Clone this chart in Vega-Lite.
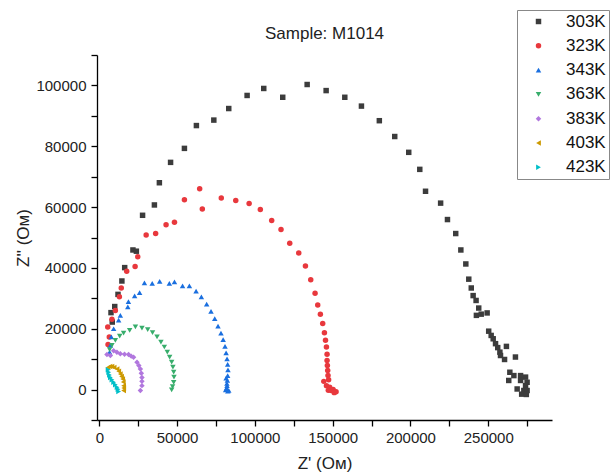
{
  "$schema": "https://vega.github.io/schema/vega-lite/v6.json",
  "autosize": {"type": "none"},
  "width": 455,
  "height": 365,
  "padding": {"left": 97, "top": 55, "right": 61, "bottom": 55},
  "background": "white",
  "config": {
    "font": "Liberation Sans",
    "view": {"stroke": null},
    "axis": {"grid": false, "domainColor": "#000", "domainWidth": 1.3, "tickColor": "#000", "tickWidth": 1.3, "tickSize": 6, "labelColor": "#222", "labelFontSize": 15, "titleFontSize": 17, "titleFontWeight": "normal", "titleColor": "#222", "labelFont": "Liberation Sans", "titleFont": "Liberation Sans"}
  },
  "title": {"text": "Sample: M1014", "fontSize": 17, "fontWeight": "normal", "font": "Liberation Sans", "color": "#222", "anchor": "middle", "offset": -46, "baseline": "alphabetic"},
  "data": {"values": [
    {"s":"303K","x":7500,"y":25300},{"s":"303K","x":8300,"y":22200},{"s":"303K","x":9900,"y":27300},{"s":"303K","x":12000,"y":31300},{"s":"303K","x":14500,"y":35700},{"s":"303K","x":16300,"y":40100},{"s":"303K","x":21600,"y":45900},{"s":"303K","x":23800,"y":45500},{"s":"303K","x":27800,"y":57300},{"s":"303K","x":35400,"y":60700},{"s":"303K","x":38600,"y":68000},{"s":"303K","x":45800,"y":74700},{"s":"303K","x":54700,"y":79300},{"s":"303K","x":62400,"y":86800},{"s":"303K","x":73600,"y":88600},{"s":"303K","x":83200,"y":92400},{"s":"303K","x":95000,"y":96700},{"s":"303K","x":105700,"y":99000},{"s":"303K","x":117900,"y":96100},{"s":"303K","x":133600,"y":100300},{"s":"303K","x":145800,"y":98300},{"s":"303K","x":157800,"y":96100},{"s":"303K","x":168500,"y":93200},{"s":"303K","x":180000,"y":88400},{"s":"303K","x":189900,"y":83200},{"s":"303K","x":198900,"y":78000},{"s":"303K","x":206000,"y":72400},{"s":"303K","x":209700,"y":65200},{"s":"303K","x":219400,"y":61300},{"s":"303K","x":223800,"y":55900},{"s":"303K","x":229100,"y":51300},{"s":"303K","x":232400,"y":45900},{"s":"303K","x":235600,"y":41300},{"s":"303K","x":237500,"y":36300},{"s":"303K","x":239100,"y":33400},{"s":"303K","x":240300,"y":30900},{"s":"303K","x":242200,"y":29300},{"s":"303K","x":243900,"y":26800},{"s":"303K","x":242400,"y":24400},{"s":"303K","x":245500,"y":24800},{"s":"303K","x":249300,"y":25200},{"s":"303K","x":250300,"y":19200},{"s":"303K","x":251900,"y":17800},{"s":"303K","x":253200,"y":16700},{"s":"303K","x":254700,"y":15100},{"s":"303K","x":256100,"y":13800},{"s":"303K","x":257500,"y":12300},{"s":"303K","x":257900,"y":11200},{"s":"303K","x":260500,"y":9900},{"s":"303K","x":261700,"y":14200},{"s":"303K","x":267500,"y":10700},{"s":"303K","x":263900,"y":5700},{"s":"303K","x":266500,"y":4600},{"s":"303K","x":270800,"y":4600},{"s":"303K","x":274000,"y":4100},{"s":"303K","x":263200,"y":3000},{"s":"303K","x":270800,"y":3000},{"s":"303K","x":275000,"y":2400},{"s":"303K","x":268600,"y":200},{"s":"303K","x":272900,"y":-300},{"s":"303K","x":275000,"y":-300},{"s":"303K","x":274000,"y":1300},{"s":"303K","x":271500,"y":-1500},{"s":"303K","x":274500,"y":-1600},
    {"s":"323K","x":5600,"y":14800},{"s":"323K","x":6400,"y":17300},{"s":"323K","x":5400,"y":20600},{"s":"323K","x":8100,"y":23100},{"s":"323K","x":10300,"y":26000},{"s":"323K","x":12900,"y":30500},{"s":"323K","x":14100,"y":33400},{"s":"323K","x":17600,"y":38900},{"s":"323K","x":23000,"y":40500},{"s":"323K","x":24700,"y":43700},{"s":"323K","x":30100,"y":50800},{"s":"323K","x":36200,"y":51300},{"s":"323K","x":42900,"y":54200},{"s":"323K","x":48300,"y":55000},{"s":"323K","x":54700,"y":62400},{"s":"323K","x":64500,"y":66000},{"s":"323K","x":66200,"y":59400},{"s":"323K","x":78400,"y":63000},{"s":"323K","x":87700,"y":62200},{"s":"323K","x":96300,"y":61200},{"s":"323K","x":103500,"y":59200},{"s":"323K","x":110800,"y":55600},{"s":"323K","x":116800,"y":52600},{"s":"323K","x":122400,"y":48100},{"s":"323K","x":128200,"y":44900},{"s":"323K","x":132500,"y":40600},{"s":"323K","x":135900,"y":36100},{"s":"323K","x":138700,"y":31700},{"s":"323K","x":140400,"y":27800},{"s":"323K","x":142100,"y":24800},{"s":"323K","x":143600,"y":21700},{"s":"323K","x":144700,"y":18700},{"s":"323K","x":145400,"y":16200},{"s":"323K","x":146000,"y":14000},{"s":"323K","x":146400,"y":11600},{"s":"323K","x":146400,"y":9600},{"s":"323K","x":146600,"y":7900},{"s":"323K","x":146800,"y":6300},{"s":"323K","x":147000,"y":4600},{"s":"323K","x":147400,"y":3200},{"s":"323K","x":144300,"y":2700},{"s":"323K","x":146000,"y":1300},{"s":"323K","x":148100,"y":800},{"s":"323K","x":150300,"y":0},{"s":"323K","x":152200,"y":-700},{"s":"323K","x":149000,"y":-300},{"s":"323K","x":147200,"y":-200},{"s":"323K","x":151000,"y":-1000},
    {"s":"343K","x":6600,"y":12300},{"s":"343K","x":7100,"y":14500},{"s":"343K","x":7700,"y":17300},{"s":"343K","x":9200,"y":20000},{"s":"343K","x":12400,"y":22800},{"s":"343K","x":13500,"y":24400},{"s":"343K","x":18300,"y":27200},{"s":"343K","x":18700,"y":28900},{"s":"343K","x":22700,"y":30800},{"s":"343K","x":25900,"y":31900},{"s":"343K","x":29000,"y":35100},{"s":"343K","x":34000,"y":34900},{"s":"343K","x":38800,"y":35600},{"s":"343K","x":45000,"y":34900},{"s":"343K","x":48300,"y":35400},{"s":"343K","x":53500,"y":34100},{"s":"343K","x":57900,"y":34100},{"s":"343K","x":62200,"y":32400},{"s":"343K","x":65600,"y":30500},{"s":"343K","x":69000,"y":28100},{"s":"343K","x":71800,"y":25700},{"s":"343K","x":74200,"y":23300},{"s":"343K","x":76300,"y":20900},{"s":"343K","x":78200,"y":18600},{"s":"343K","x":79600,"y":16400},{"s":"343K","x":80800,"y":14200},{"s":"343K","x":81500,"y":12100},{"s":"343K","x":82100,"y":10100},{"s":"343K","x":82500,"y":8300},{"s":"343K","x":82700,"y":6500},{"s":"343K","x":82500,"y":4600},{"s":"343K","x":81500,"y":3800},{"s":"343K","x":82300,"y":3000},{"s":"343K","x":82000,"y":2000},{"s":"343K","x":82100,"y":1300},{"s":"343K","x":81800,"y":500},{"s":"343K","x":81200,"y":-100},{"s":"343K","x":83200,"y":-300},{"s":"343K","x":82600,"y":-500},
    {"s":"363K","x":6600,"y":13100},{"s":"363K","x":8100,"y":14500},{"s":"363K","x":10300,"y":16200},{"s":"363K","x":13100,"y":17600},{"s":"363K","x":15600,"y":18600},{"s":"363K","x":19500,"y":19500},{"s":"363K","x":23200,"y":20600},{"s":"363K","x":27400,"y":20200},{"s":"363K","x":31100,"y":19700},{"s":"363K","x":34200,"y":18700},{"s":"363K","x":37100,"y":17300},{"s":"363K","x":39600,"y":15600},{"s":"363K","x":41800,"y":14000},{"s":"363K","x":43700,"y":12300},{"s":"363K","x":45200,"y":10700},{"s":"363K","x":46500,"y":9000},{"s":"363K","x":47300,"y":7400},{"s":"363K","x":47800,"y":5700},{"s":"363K","x":48000,"y":4100},{"s":"363K","x":47800,"y":2400},{"s":"363K","x":47100,"y":1000},{"s":"363K","x":46500,"y":-100},
    {"s":"383K","x":4900,"y":11500},{"s":"383K","x":7100,"y":11200},{"s":"383K","x":9200,"y":12800},{"s":"383K","x":11300,"y":12300},{"s":"383K","x":13500,"y":11800},{"s":"383K","x":16200,"y":11600},{"s":"383K","x":18800,"y":11500},{"s":"383K","x":20500,"y":11000},{"s":"383K","x":22000,"y":10600},{"s":"383K","x":24200,"y":9000},{"s":"383K","x":25400,"y":7900},{"s":"383K","x":26400,"y":6800},{"s":"383K","x":27000,"y":5400},{"s":"383K","x":27400,"y":4000},{"s":"383K","x":27400,"y":2700},{"s":"383K","x":27400,"y":1300},{"s":"383K","x":26400,"y":-300},
    {"s":"403K","x":5600,"y":7300},{"s":"403K","x":6800,"y":7600},{"s":"403K","x":8100,"y":7600},{"s":"403K","x":9500,"y":7300},{"s":"403K","x":11400,"y":6800},{"s":"403K","x":12500,"y":6000},{"s":"403K","x":13500,"y":5100},{"s":"403K","x":14300,"y":4300},{"s":"403K","x":15000,"y":3500},{"s":"403K","x":15400,"y":2500},{"s":"403K","x":15600,"y":1300},{"s":"403K","x":15700,"y":500},{"s":"403K","x":15600,"y":-300},
    {"s":"423K","x":5600,"y":6500},{"s":"423K","x":6000,"y":5700},{"s":"423K","x":6500,"y":4800},{"s":"423K","x":7100,"y":4000},{"s":"423K","x":8100,"y":3200},{"s":"423K","x":9200,"y":2400},{"s":"423K","x":10300,"y":1600},{"s":"423K","x":11400,"y":800},{"s":"423K","x":12000,"y":100},{"s":"423K","x":12400,"y":-600}
  ]},
  "mark": {"type": "point", "filled": true, "opacity": 1, "size": 30},
  "encoding": {
    "x": {"field": "x", "type": "quantitative", "title": "Z' (Ом)",
      "scale": {"domain": [-1500, 291000], "nice": false, "zero": false},
      "axis": {"values": [0,25000,50000,75000,100000,125000,150000,175000,200000,225000,250000,275000], "format": "d",
        "labelExpr": "datum.value % 50000 === 0 ? datum.label : ''",
        "encode": {"ticks": {"update": {"y2": {"signal": "datum.value % 50000 === 0 ? 6 : 3"}}}},
        "labelPadding": 4, "titlePadding": 10, "labelFlush": false, "labelOverlap": false}},
    "y": {"field": "y", "type": "quantitative", "title": "Z'' (Ом)",
      "scale": {"domain": [-10000, 110000], "nice": false, "zero": false},
      "axis": {"values": [-10000,0,10000,20000,30000,40000,50000,60000,70000,80000,90000,100000,110000], "format": "d",
        "labelExpr": "datum.value % 20000 === 0 ? datum.label : ''",
        "encode": {"ticks": {"update": {"x2": {"signal": "datum.value % 20000 === 0 ? -6 : -3"}}}},
        "labelPadding": 5, "titlePadding": 3, "labelFlush": false, "labelOverlap": false}},
    "color": {"field": "s", "type": "nominal", "title": null,
      "scale": {"domain": ["303K","323K","343K","363K","383K","403K","423K"], "range": ["#3c3c3c","#E8383D","#1A6FDF","#37AD6B","#B177DE","#CC9900","#00BFC8"]},
      "legend": {"orient": "none", "legendX": 420, "legendY": -45, "padding": 3, "strokeColor": "#888", "fillColor": "white",
        "labelFontSize": 17, "labelFont": "Liberation Sans", "labelColor": "#111", "symbolSize": 30, "symbolOffset": 10, "labelOffset": 19, "rowPadding": 6.3}},
    "shape": {"field": "s", "type": "nominal",
      "scale": {"domain": ["303K","323K","343K","363K","383K","403K","423K"], "range": ["square","circle","triangle-up","triangle-down","diamond","triangle-left","triangle-right"]}}
  }
}
